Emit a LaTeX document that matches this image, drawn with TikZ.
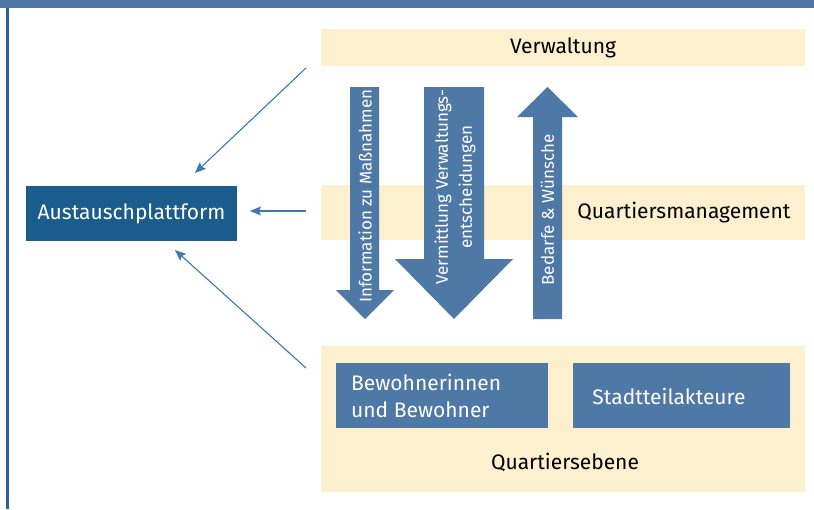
\documentclass[tikz,border=0pt]{standalone}
\usepackage{fontspec}
\setmainfont{Fira Sans}
\usetikzlibrary{arrows.meta}
\definecolor{barblue}{HTML}{4F79A5}
\definecolor{lineblue}{HTML}{2562A0}
\definecolor{darkbox}{HTML}{1A5C8C}
\definecolor{midblue}{HTML}{4E78A5}
\definecolor{cream}{HTML}{FDF0CF}
\definecolor{thinblue}{HTML}{3B78B8}
\begin{document}
\begin{tikzpicture}[x=1pt,y=-1pt,
  band/.style={fill=cream, draw=none, inner sep=0pt, outer sep=0pt, anchor=north west},
  bluebox/.style={fill=midblue, draw=none, inner sep=0pt, outer sep=0pt, anchor=north west},
  bigarrow/.style={fill=midblue, draw=none},
  lbl/.style={inner sep=0pt, font=\fontsize{21}{25}\selectfont, text=black},
  wlbl/.style={inner sep=0pt, font=\fontsize{21}{27}\selectfont, text=white},
  arrlbl/.style={inner sep=0pt, rotate=90, font=\fontsize{17}{24}\selectfont, text=white, align=center},
  link/.style={draw=thinblue, line width=1.1pt, -{Stealth[length=11pt,width=9pt,inset=2pt]}}
]
\useasboundingbox (0,0) rectangle (814,509);
\fill[white] (0,0) rectangle (814,509);
\fill[barblue] (0,0) rectangle (814,8);
\fill[lineblue] (6,8) rectangle (8.5,509);

% bands
\node[band, minimum width=484pt, minimum height=37pt] (verw) at (321,29) {};
\node[lbl] (verwtxt) at (563,47.5) {Verwaltung};
\node[band, minimum width=484pt, minimum height=55pt] (qm) at (321,185) {};
\node[band, minimum width=484pt, minimum height=146pt] (qe) at (321,346) {};

% big arrows
\fill[bigarrow] (350,87) -- (379,87) -- (379,290) -- (394,290) -- (365,319) -- (336,290) -- (350,290) -- cycle;
\fill[bigarrow] (424,87) -- (484,87) -- (484,259) -- (513,259) -- (454,319) -- (395,259) -- (424,259) -- cycle;
\fill[bigarrow] (533,319) -- (562,319) -- (562,117) -- (578,117) -- (547.5,87) -- (517,117) -- (533,117) -- cycle;
\node[arrlbl] (a1txt) at (365,196) {Information zu Maßnahmen};
\node[arrlbl] (a2txt) at (455,187) {Vermittlung Verwaltungs-\\entscheidungen};
\node[arrlbl] (a3txt) at (547.5,210) {Bedarfe \& Wünsche};

\node[lbl] (qmtxt) at (684,213) {Quartiersmanagement};

% lower boxes
\node[bluebox, minimum width=212pt, minimum height=65pt] (bew) at (336,363) {};
\node[wlbl, anchor=west, align=left] (bewtxt) at (351,396) {Bewohnerinnen\\und Bewohner};
\node[bluebox, minimum width=217pt, minimum height=65pt] (sta) at (573,363) {};
\node[wlbl] (statxt) at (669,396) {Stadtteilakteure};
\node[lbl] (qetxt) at (565,462) {Quartiersebene};

% Austauschplattform
\node[fill=darkbox, inner sep=0pt, minimum width=211pt, minimum height=55pt, text=white,
  font=\fontsize{21}{25}\selectfont] (aus) at (131.5,213.5) {Austauschplattform};

% links
\coordinate (s1) at (306,68);
\coordinate (e1) at (195,173);
\coordinate (s2) at (306,211);
\coordinate (e2) at (250,211);
\coordinate (s3) at (306,368);
\coordinate (e3) at (175,250);
\draw[link] (s1) -- (e1);
\draw[link] (s2) -- (e2);
\draw[link] (s3) -- (e3);
\end{tikzpicture}
\end{document}
